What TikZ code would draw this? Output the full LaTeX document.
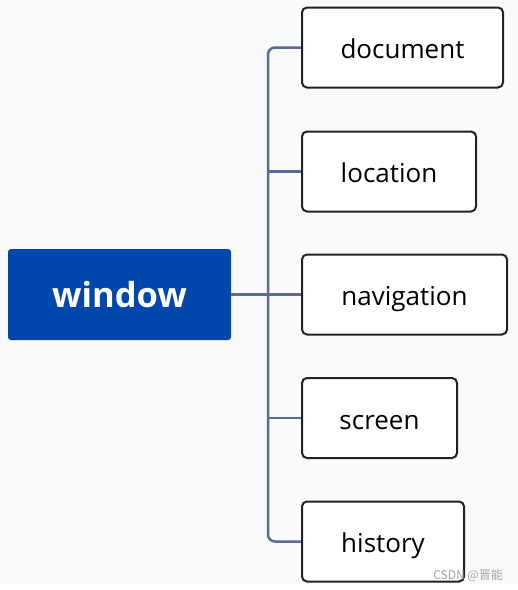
\documentclass[tikz,border=0pt]{standalone}
\usepackage{fontspec}
\setmainfont{Open Sans}
\newfontfamily\cjkfont{Noto Sans CJK SC}
\usetikzlibrary{positioning,calc}
\definecolor{rootblue}{RGB}{0,71,171}
\definecolor{branchgray}{RGB}{92,106,148}
\definecolor{leafedge}{RGB}{34,34,34}
\definecolor{canvas}{RGB}{250,250,250}
\tikzset{
  rootbox/.style={fill=rootblue, rounded corners=3pt, minimum width=223pt,
                  minimum height=91pt, inner sep=0pt, text=white,
                  font=\fontsize{34.5}{40}\selectfont\bfseries},
  leafbox/.style={draw=leafedge, line width=2pt, fill=white, rounded corners=5pt,
                  minimum height=80pt, inner sep=0pt, text height=26pt, text depth=4pt,
                  font=\fontsize{26}{31}\selectfont},
  branch/.style={draw=branchgray, line width=2.5pt},
}
\begin{document}
\begin{tikzpicture}[x=1pt, y=-1pt]
    \useasboundingbox (0,0) rectangle (518,590);
    \fill[canvas] (0,0) rectangle (518,584);
    % root and leaves
    \node[rootbox] (window) at (119.5,294.5) {window};
    \node[leafbox, minimum width=201pt] (document) at (402.5,47.5) {document};
    \node[leafbox, minimum width=174pt] (location) at (389,171.5) {location};
    \node[leafbox, minimum width=205pt] (navigation) at (404.5,294.5) {navigation};
    \node[leafbox, minimum width=155pt] (screen) at (379.5,418) {screen};
    \node[leafbox, minimum width=162pt] (history) at (383,541.5) {history};
    \coordinate (trunk) at (268,294.5);
    % connectors
    \draw[branch, rounded corners=7pt] (document.west) -| (trunk) |- (history.west);
    \draw[branch] (window.east) -- (navigation.west);
    \draw[branch] (trunk |- location.west) -- (location.west);
    \draw[branch] (trunk |- screen.west) -- (screen.west);
    % watermark
    \node[anchor=east, text=gray!70, font=\cjkfont\fontsize{12}{14}\selectfont, inner sep=0pt]
      (mark) at (503,575) {CSDN @晋能};
\end{tikzpicture}
\end{document}
